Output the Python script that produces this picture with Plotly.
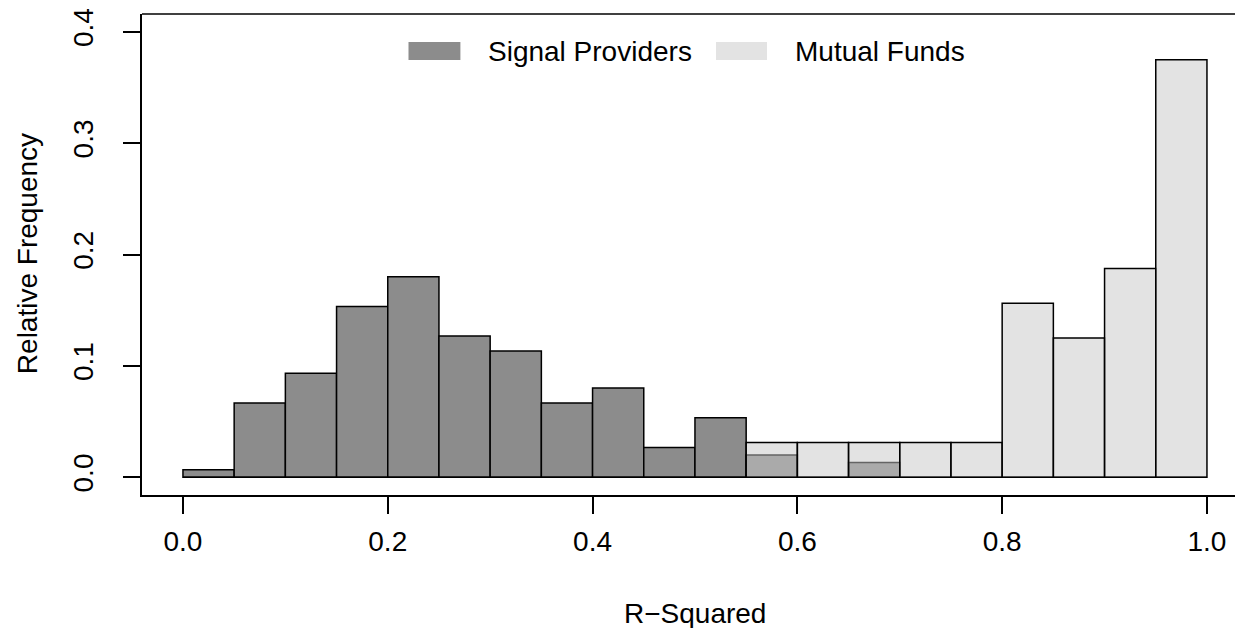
import plotly.graph_objects as go

# ---- data ----
bin_left = [0.00, 0.05, 0.10, 0.15, 0.20, 0.25, 0.30, 0.35, 0.40, 0.45,
            0.50, 0.55, 0.60, 0.65, 0.70, 0.75, 0.80, 0.85, 0.90, 0.95]
bin_width = 0.05
signal_providers = [0.0067, 0.0667, 0.0933, 0.1533, 0.1800, 0.1267, 0.1133, 0.0667, 0.0800, 0.0267,
                    0.0533, 0.0200, 0.0000, 0.0133, 0.0000, 0.0000, 0.0000, 0.0000, 0.0000, 0.0000]
mutual_funds = [0.0, 0.0, 0.0, 0.0, 0.0, 0.0, 0.0, 0.0, 0.0, 0.0,
                0.0, 0.03125, 0.03125, 0.03125, 0.03125, 0.03125, 0.15625, 0.125, 0.1875, 0.375]
x_ticks = [0.0, 0.2, 0.4, 0.6, 0.8, 1.0]
y_ticks = [0.0, 0.1, 0.2, 0.3, 0.4]
series_names = ["Signal Providers", "Mutual Funds"]

SP_COLOR = "rgb(140,140,140)"
MF_COLOR = "rgba(200,200,200,0.5)"
FONT = "Liberation Sans, Arial, sans-serif"
FS = 28

centers = [b + bin_width / 2 for b in bin_left]

fig = go.Figure()
fig.add_trace(go.Bar(x=centers, y=signal_providers, width=bin_width, name=series_names[0],
                     marker=dict(color=SP_COLOR, line=dict(color="black", width=1.5)),
                     showlegend=False))
fig.add_trace(go.Bar(x=centers, y=mutual_funds, width=bin_width, name=series_names[1],
                     marker=dict(color=MF_COLOR, line=dict(color="black", width=1.5)),
                     showlegend=False))

# page body has an 8px margin: design in window pixels, then shift
OFF = 8
W, H = 1243 - OFF, 628 - OFF
L_ref, T_ref, B_ref = 142, 14, 494.7
L, T = L_ref - OFF, T_ref - OFF
B_px = B_ref - OFF
plot_w = W - L
plot_h = B_px - T
px_per_unit = 1024.0
xmin = -0.04
xmax = xmin + plot_w / px_per_unit

def px_x(p):
    return (p - OFF - L) / plot_w

def px_y(p):
    return (B_px - (p - OFF)) / plot_h

fig.update_layout(
    width=W, height=H,
    margin=dict(l=L, r=0, t=T, b=H - B_px, pad=0),
    paper_bgcolor="white", plot_bgcolor="white",
    barmode="overlay",
    font=dict(family=FONT, size=FS, color="black"),
    xaxis=dict(range=[xmin, xmax], tickvals=x_ticks, tickformat=".1f",
               showgrid=False, zeroline=False, showline=True, linecolor="black", linewidth=1.5,
               ticks="outside", ticklen=17, tickwidth=1.5, tickcolor="black",
               ticklabelstandoff=4,
               tickfont=dict(family=FONT, size=FS)),
    yaxis=dict(range=[-0.016, 0.416], tickvals=y_ticks, tickformat=".1f", tickangle=-90,
               showgrid=False, zeroline=False, showline=True, linecolor="black", linewidth=1.5,
               ticks="outside", ticklen=17, tickwidth=1.5, tickcolor="black",
               ticklabelstandoff=19,
               tickfont=dict(family=FONT, size=FS)),
)

# top border of the box
fig.add_shape(type="line", xref="paper", yref="paper", x0=0, x1=1, y0=1, y1=1,
              line=dict(color="black", width=1.5))

# legend (patches + text)
leg_y0, leg_y1 = 42, 60
for x0, x1, col, label, tx in [(408.5, 460.4, SP_COLOR, series_names[0], 486),
                               (716, 767, MF_COLOR, series_names[1], 793)]:
    fig.add_shape(type="rect", xref="paper", yref="paper",
                  x0=px_x(x0), x1=px_x(x1), y0=px_y(leg_y1), y1=px_y(leg_y0),
                  fillcolor=col, line=dict(width=0))
    fig.add_annotation(xref="paper", yref="paper", x=px_x(tx), y=px_y(51),
                       text=label, showarrow=False, xanchor="left", yanchor="middle",
                       font=dict(family=FONT, size=FS))

# axis titles
fig.add_annotation(xref="paper", yref="paper", x=px_x(695), y=px_y(613),
                   text="R\u2212Squared", showarrow=False, xanchor="center", yanchor="middle",
                   font=dict(family=FONT, size=FS))
fig.add_annotation(xref="paper", yref="paper", x=px_x(27), y=px_y(254),
                   text="Relative Frequency", showarrow=False, xanchor="center", yanchor="middle",
                   textangle=-90, font=dict(family=FONT, size=FS))

fig.write_html("out.html")
